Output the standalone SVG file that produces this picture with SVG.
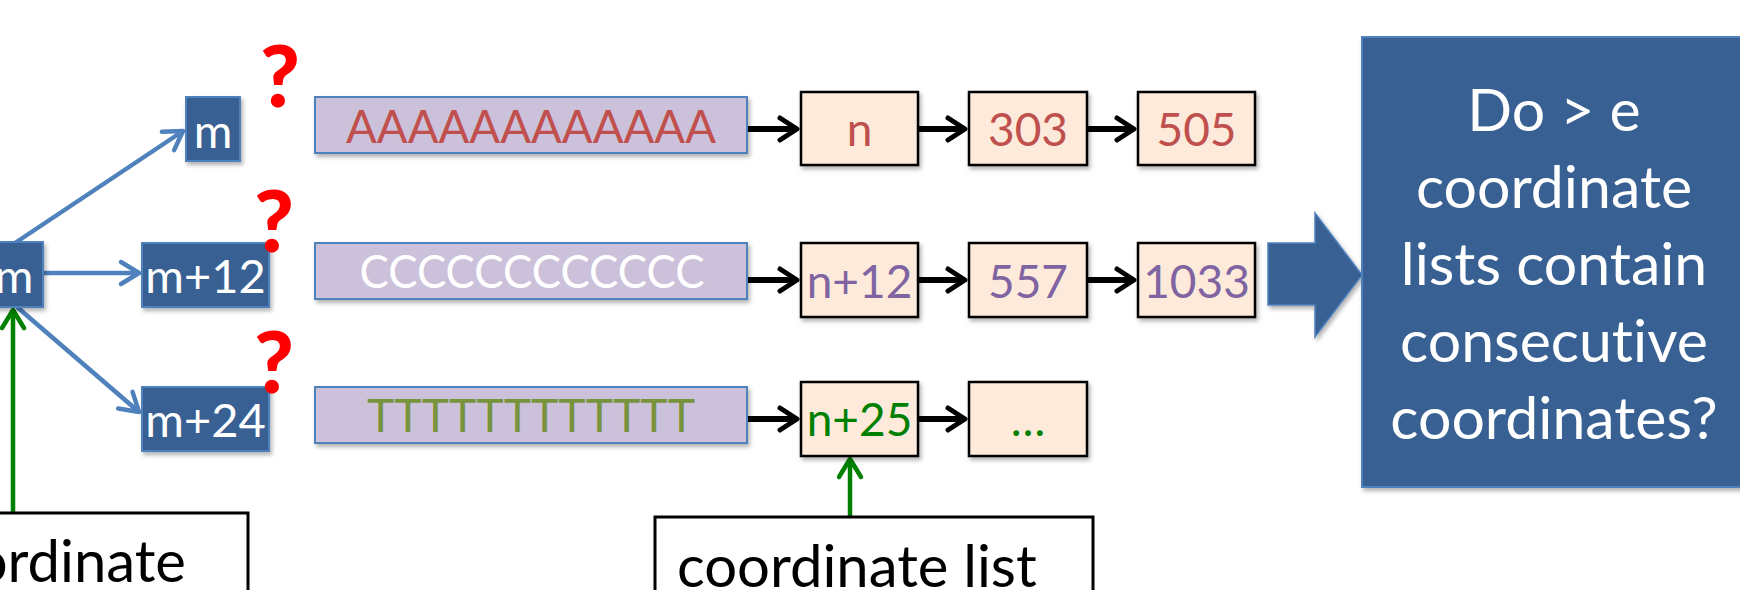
<svg xmlns="http://www.w3.org/2000/svg" width="1740" height="590" viewBox="0 0 1740 590">
  <defs>
    <filter id="shadow" x="-20%" y="-20%" width="140%" height="160%">
      <feDropShadow dx="2" dy="3" stdDeviation="2" flood-color="#000" flood-opacity="0.3"/>
    </filter>
    <marker id="head-black" viewBox="-24 -16 28 32" markerWidth="28" markerHeight="32" refX="0" refY="0" orient="auto" markerUnits="userSpaceOnUse">
      <path d="M -17 -11 L 0 0 L -17 11" fill="none" stroke="#000" stroke-width="5" stroke-linecap="round" stroke-linejoin="round"/>
    </marker>
    <marker id="head-blue" viewBox="-24 -16 28 32" markerWidth="28" markerHeight="32" refX="0" refY="0" orient="auto" markerUnits="userSpaceOnUse">
      <path d="M -18 -11 L 0 0 L -18 11" fill="none" stroke="#4F81BD" stroke-width="4.5" stroke-linecap="round" stroke-linejoin="round"/>
    </marker>
    <marker id="head-green" viewBox="-24 -16 28 32" markerWidth="28" markerHeight="32" refX="0" refY="0" orient="auto" markerUnits="userSpaceOnUse">
      <path d="M -18 -11 L 0 0 L -18 11" fill="none" stroke="#008000" stroke-width="4.5" stroke-linecap="round" stroke-linejoin="round"/>
    </marker>
  </defs>
  <style>
    text { font-family: Lato, "Open Sans", "Liberation Sans", sans-serif; font-variant-ligatures: none; }
    .pos rect { fill: #376092; stroke: #4F81BD; stroke-width: 2; filter: url(#shadow); }
    .pos text { fill: #fff; font-size: 47px; text-anchor: middle; }
    .seq rect { fill: #CCC1DA; stroke: #4F81BD; stroke-width: 2; filter: url(#shadow); }
    .seq text { font-size: 47px; text-anchor: middle; }
    .cell rect { fill: #FDEADA; stroke: #000; stroke-width: 2.5; filter: url(#shadow); }
    .cell text { font-size: 46px; text-anchor: middle; }
    .red { fill: #C0504D; }
    .purple { fill: #8064A2; }
    .green { fill: #008000; }
    .olive { fill: #77933C; }
    .white { fill: #fff; }
    .qmark { fill: #FF0000; font-size: 86px; font-weight: 900; text-anchor: middle; }
    .label rect { fill: #fff; stroke: #000; stroke-width: 3; }
    .label text { fill: #000; font-size: 58px; }
    .blk { stroke: #000; stroke-width: 6; fill: none; marker-end: url(#head-black); }
    .blu { stroke: #4F81BD; stroke-width: 4.5; fill: none; marker-end: url(#head-blue); }
    .grn { stroke: #008000; stroke-width: 4.5; fill: none; marker-end: url(#head-green); }
  </style>

  <!-- connectors -->
  <g id="connectors">
    <line class="blu" x1="15" y1="243" x2="183" y2="131"/>
    <line class="blu" x1="43" y1="273" x2="139" y2="273"/>
    <line class="blu" x1="17" y1="307" x2="139" y2="412"/>
    <line class="grn" x1="13" y1="512" x2="13" y2="310"/>
    <line class="grn" x1="850" y1="517" x2="850" y2="459"/>
    <line class="blk" x1="747" y1="129" x2="797" y2="129"/>
    <line class="blk" x1="918" y1="129" x2="965" y2="129"/>
    <line class="blk" x1="1087" y1="129" x2="1134" y2="129"/>
    <line class="blk" x1="747" y1="280" x2="797" y2="280"/>
    <line class="blk" x1="918" y1="280" x2="965" y2="280"/>
    <line class="blk" x1="1087" y1="280" x2="1134" y2="280"/>
    <line class="blk" x1="747" y1="419" x2="797" y2="419"/>
    <line class="blk" x1="918" y1="419" x2="965" y2="419"/>
  </g>

  <!-- positions -->
  <g id="pos-m" class="pos">
    <rect x="-16" y="242" width="59" height="65"/>
    <text x="14" y="293">m</text>
  </g>
  <g id="pos-top" class="pos">
    <rect x="186" y="97" width="54" height="64"/>
    <text x="213" y="148">m</text>
  </g>
  <g id="pos-12" class="pos">
    <rect x="142" y="243" width="127" height="64"/>
    <text x="205.5" y="293">m+12</text>
  </g>
  <g id="pos-24" class="pos">
    <rect x="142" y="387" width="127" height="64"/>
    <text x="205.5" y="437">m+24</text>
  </g>

  <!-- question marks -->
  <g id="questions">
    <text class="qmark" x="280" y="107">?</text>
    <text class="qmark" x="274" y="252">?</text>
    <text class="qmark" x="274" y="393">?</text>
  </g>

  <!-- sequences -->
  <g id="seq-a" class="seq">
    <rect x="315" y="97" width="432" height="56"/>
    <text class="red" x="531" y="143" textLength="370" lengthAdjust="spacingAndGlyphs">AAAAAAAAAAAA</text>
  </g>
  <g id="seq-c" class="seq">
    <rect x="315" y="243" width="432" height="56"/>
    <text class="white" x="532" y="288" textLength="345" lengthAdjust="spacingAndGlyphs">CCCCCCCCCCCC</text>
  </g>
  <g id="seq-t" class="seq">
    <rect x="315" y="387" width="432" height="56"/>
    <text class="olive" x="531" y="432" textLength="328" lengthAdjust="spacingAndGlyphs">TTTTTTTTTTTT</text>
  </g>

  <!-- coordinate lists -->
  <g id="cell-n" class="cell">
    <rect x="801" y="92" width="117" height="73"/>
    <text class="red" x="859.5" y="146">n</text>
  </g>
  <g id="cell-303" class="cell">
    <rect x="969" y="92" width="118" height="73"/>
    <text class="red" x="1028" y="146">303</text>
  </g>
  <g id="cell-505" class="cell">
    <rect x="1138" y="92" width="117" height="73"/>
    <text class="red" x="1196.5" y="146">505</text>
  </g>
  <g id="cell-n12" class="cell">
    <rect x="801" y="243" width="117" height="74"/>
    <text class="purple" x="859.5" y="298">n+12</text>
  </g>
  <g id="cell-557" class="cell">
    <rect x="969" y="243" width="118" height="74"/>
    <text class="purple" x="1028" y="298">557</text>
  </g>
  <g id="cell-1033" class="cell">
    <rect x="1138" y="243" width="117" height="74"/>
    <text class="purple" x="1196.5" y="298">1033</text>
  </g>
  <g id="cell-n25" class="cell">
    <rect x="801" y="382" width="117" height="74"/>
    <text class="green" x="859.5" y="436">n+25</text>
  </g>
  <g id="cell-more" class="cell">
    <rect x="969" y="382" width="118" height="74"/>
    <text class="green" x="1028" y="436">…</text>
  </g>

  <!-- block arrow to question -->
  <g id="block-arrow">
    <polygon points="1268,243 1315,243 1315,213 1362,275 1315,337 1315,305 1268,305" fill="#376092" stroke="#4F81BD" stroke-width="1.5" filter="url(#shadow)"/>
  </g>

  <!-- question box -->
  <g id="question">
    <rect x="1362" y="37" width="400" height="450" fill="#376092" stroke="#4F81BD" stroke-width="2" filter="url(#shadow)"/>
    <g fill="#fff" font-size="59" text-anchor="middle">
      <text x="1554" y="131">Do &gt; e</text>
      <text x="1554" y="208">coordinate</text>
      <text x="1554" y="285">lists contain</text>
      <text x="1554" y="362">consecutive</text>
      <text x="1554" y="439">coordinates?</text>
    </g>
  </g>

  <!-- labels -->
  <g id="label-coordinate" class="label">
    <rect x="-10" y="513" width="258" height="100"/>
    <text x="186" y="582" text-anchor="end">coordinate</text>
  </g>
  <g id="label-list" class="label">
    <rect x="655" y="517" width="438" height="100"/>
    <text x="677" y="587">coordinate list</text>
  </g>
</svg>
